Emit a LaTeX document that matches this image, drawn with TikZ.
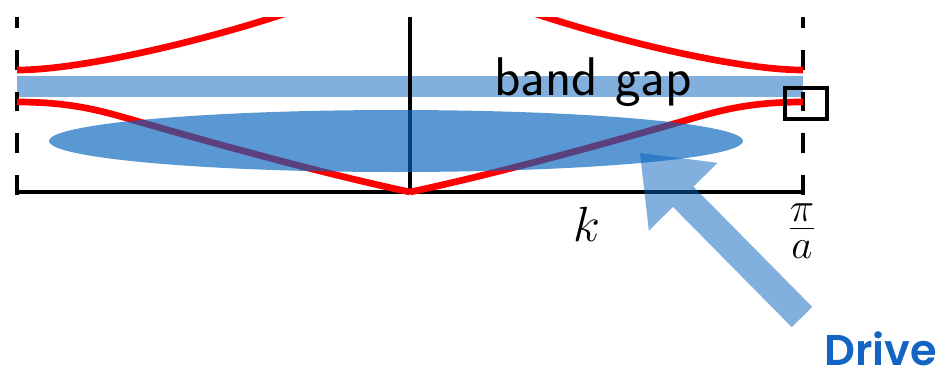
\documentclass[tikz,border=0pt]{standalone}
\usepackage{fontspec}
\newfontfamily\drivefont{Poppins SemiBold}
\usetikzlibrary{arrows.meta}
\definecolor{bandred}{RGB}{255,0,0}
\definecolor{gapblue}{RGB}{5,98,190}
\definecolor{drivetext}{RGB}{20,100,195}

\begin{document}
\begin{tikzpicture}[x=0.02cm,y=-0.02cm,
    zoneline/.style={line width=2.1pt,dash pattern=on 11.3pt off 12.5pt},
    axisline/.style={line width=2pt},
    bandline/.style={bandred,line width=3.8pt},
    markbox/.style={draw,line width=1.9pt,minimum width=0.84cm,minimum height=0.62cm,inner sep=0pt},
    ticklabel/.style={anchor=base,font=\Huge,scale=1.13},
    driveshaft/.style={gapblue,opacity=0.5,line width=16.4pt,
      -{Triangle[length=35pt,width=55pt,line width=0pt]}}]
  \useasboundingbox (0,0) rectangle (949,370);
  % gap and axes
  \fill[gapblue,opacity=0.5] (17,76) rectangle (803,97);
  \draw[zoneline] (17,195) -- (17,17);
  \draw[zoneline] (803,195) -- (803,17);
  \draw[axisline] (410,192) -- (410,17);
  \draw[axisline] (17,192) -- (803,192);
  % bands
  \begin{scope}
    \clip (0,17) rectangle (949,370);
    \draw[bandline] (17,70) .. controls (80,70) and (200,42) .. (290,12);
    \draw[bandline] (803,70) .. controls (740,70) and (620,42) .. (530,12);
    \draw[bandline] (17,102) .. controls (75,102) and (105,112) .. (140,122)
      .. controls (230,148) and (330,175) .. (410,192);
    \draw[bandline] (803,102) .. controls (745,102) and (715,112) .. (680,122)
      .. controls (590,148) and (490,175) .. (410,192);
  \end{scope}
  \fill[gapblue,opacity=0.66] (396,141) ellipse [x radius=6.94cm,y radius=0.62cm];
  \node[markbox] (gapedge) at (806,103.5) {};
  % labels
  \node[anchor=base,font=\fontsize{31}{36}\selectfont\sffamily] (gaplabel) at (593,95) {band gap};
  \node[ticklabel] (klabel) at (587,241) {$k$};
  \node[ticklabel] (zoneedge) at (802,241) {$\frac{\pi}{a}$};
  % drive
  \coordinate (drivetail) at (802,317);
  \coordinate (drivetip) at (640,153);
  \draw[driveshaft] (drivetail) -- (drivetip);
  \node[anchor=base west,inner sep=0pt,text=drivetext,font=\fontsize{24.5}{28}\selectfont\drivefont] (drive) at (824,365) {Drive};
\end{tikzpicture}
\end{document}
